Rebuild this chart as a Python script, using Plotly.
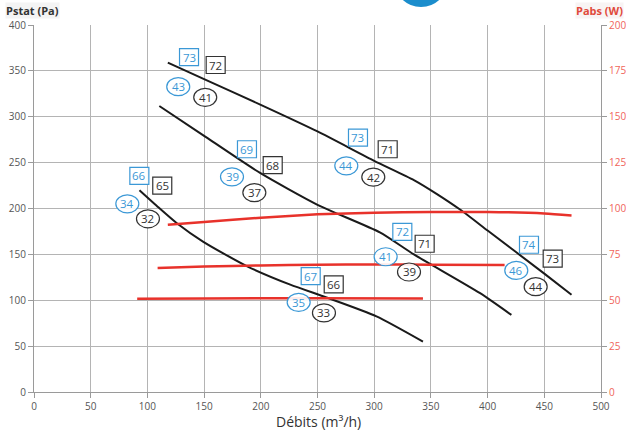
import plotly.graph_objects as go

# ---- Data ----
# Black pressure curves (Pstat, Pa) vs flow (m3/h)
p1_x = [118, 150, 200, 250, 300, 335, 355, 376, 400, 450, 474]
p1_y = [359, 341, 313, 284, 252, 231, 216, 198.6, 176, 129, 106]
p2_x = [110.5, 149, 199, 250, 305, 335, 393, 421]
p2_y = [311.7, 280, 239, 204, 174, 150, 108, 84]
p3_x = [93, 110, 126, 149, 188, 226, 258, 302, 343]
p3_y = [220, 201, 184, 164, 137, 117, 103, 82.5, 55]

# Red power curves (Pabs, W)
w1_x = [118, 150, 200, 250, 300, 350, 400, 450, 474]
w1_y = [91.1, 92.7, 95.0, 96.8, 97.7, 98.1, 98.1, 97.3, 96.2]
w2_x = [109, 150, 200, 250, 300, 350, 415]
w2_y = [67.6, 68.4, 69.0, 69.3, 69.5, 69.4, 69.2]
w3_x = [91, 150, 250, 343]
w3_y = [50.8, 51.0, 51.1, 51.0]

# Labels: blue squares, black squares, blue circles, black circles
bsq_lab = ["73", "69", "66", "73", "72", "67", "74"]
bsq_x = [136.7, 187.8, 92.9, 285.7, 324.8, 244.0, 436.5]
bsq_y = [365, 264.6, 235.6, 277.3, 174.6, 126.4, 160.5]

ksq_lab = ["72", "68", "65", "71", "71", "66", "73"]
ksq_x = [160.2, 210.5, 113.1, 311.9, 344.5, 264.3, 457.4]
ksq_y = [356.4, 247.2, 225.0, 264.6, 161.6, 117.3, 145.3]

bci_lab = ["43", "39", "34", "44", "41", "35", "46"]
bci_x = [127.2, 174.6, 82.3, 275.4, 310.1, 233.4, 425.3]
bci_y = [332.8, 234.5, 205.1, 246.5, 147.4, 97.7, 132.5]

kci_lab = ["41", "37", "32", "42", "39", "33", "44"]
kci_x = [151.0, 194.3, 100.5, 299.2, 330.7, 255.7, 442.4]
kci_y = [321.2, 217.4, 188.8, 234.2, 130.8, 86.2, 114.8]

x_ticks = list(range(0, 501, 50))
y_ticks = list(range(0, 401, 50))
y2_ticks = list(range(0, 201, 25))

BLUE = "#3b98d6"
DARK = "#333333"
RED = "#e8322b"
RED_T = "#f0645a"
GRID = "#b4b4b4"
FONT = "Open Sans"

L, R, T, B = 34, 25, 25, 44.5
PW, PH = 626 - L - R, 437 - T - B

fig = go.Figure()

for xs, ys in [(p1_x, p1_y), (p2_x, p2_y), (p3_x, p3_y)]:
    fig.add_trace(go.Scatter(x=xs, y=ys, mode="lines", line=dict(color="#1a1a1a", width=2, shape="spline", smoothing=0.6),
                             showlegend=False, hoverinfo="skip"))
for xs, ys in [(w1_x, w1_y), (w2_x, w2_y), (w3_x, w3_y)]:
    fig.add_trace(go.Scatter(x=xs, y=ys, mode="lines", yaxis="y2",
                             line=dict(color=RED, width=2.5, shape="spline", smoothing=0.6),
                             showlegend=False, hoverinfo="skip"))

shapes = []
annotations = []

def add_marks(labs, xs, ys, kind, color):
    for lab, x, y in zip(labs, xs, ys):
        if kind == "rect":
            hx, hy = 9.5, 8.5
        else:
            hx, hy = 11.5, 9
        shapes.append(dict(type=kind, xref="x", yref="y", xsizemode="pixel", ysizemode="pixel",
                           xanchor=x, yanchor=y, x0=-hx, x1=hx, y0=-hy, y1=hy,
                           line=dict(color=color, width=1.2), fillcolor="rgba(255,255,255,0.9)", layer="above"))
        annotations.append(dict(x=x, y=y, xref="x", yref="y", text=lab, showarrow=False,
                                font=dict(family=FONT, size=11.5, color=color)))

add_marks(bsq_lab, bsq_x, bsq_y, "rect", BLUE)
add_marks(ksq_lab, ksq_x, ksq_y, "rect", DARK)
add_marks(bci_lab, bci_x, bci_y, "circle", BLUE)
add_marks(kci_lab, kci_x, kci_y, "circle", DARK)

def px(xp):
    return (xp - L) / PW

def py(yp):
    return (437 - B - yp) / PH

# partial logo at top
shapes.append(dict(type="circle", xref="paper", yref="paper",
                   x0=px(394), x1=px(448), y0=py(7), y1=py(-47),
                   line=dict(width=0), fillcolor="#1b8dcc", layer="above"))

annotations.append(dict(x=px(5), y=py(10), xref="paper", yref="paper", text="<b>Pstat (Pa)</b>", showarrow=False,
                        xanchor="left", yanchor="middle", font=dict(family=FONT, size=11, color=DARK),
                        bgcolor="#f4f4f4", borderpad=0))
annotations.append(dict(x=px(624), y=py(10), xref="paper", yref="paper", text="<b>Pabs (W)</b>", showarrow=False,
                        xanchor="right", yanchor="middle", font=dict(family=FONT, size=11, color="#e04a3c"),
                        bgcolor="#f8f4f4", borderpad=0))
annotations.append(dict(x=px(318), y=py(422), xref="paper", yref="paper", text="Débits (m³/h)", showarrow=False,
                        xanchor="center", yanchor="middle", font=dict(family=FONT, size=14, color=DARK)))

axis_common = dict(showline=True, linecolor="#9a9a9a", linewidth=1.2, ticks="outside", ticklen=5,
                   tickcolor="#9a9a9a", zeroline=False, automargin=False)

fig.update_layout(
    width=626, height=437,
    margin=dict(l=L, r=R, t=T, b=B, autoexpand=False),
    paper_bgcolor="white", plot_bgcolor="white",
    font=dict(family=FONT, size=10, color="#555555"),
    xaxis=dict(range=[0, 500], tickvals=x_ticks, showgrid=True, gridcolor=GRID, gridwidth=1.2,
               tickfont=dict(size=10, color="#555555"), **axis_common),
    yaxis=dict(range=[0, 400], tickvals=y_ticks, showgrid=True, gridcolor=GRID, gridwidth=1.2,
               tickfont=dict(size=10, color="#555555"), **axis_common),
    yaxis2=dict(range=[0, 200], tickvals=y2_ticks, overlaying="y", side="right", showgrid=False,
                tickfont=dict(size=10, color=RED_T), **axis_common),
    shapes=shapes,
    annotations=annotations,
)

fig.write_html("out.html", config={"displayModeBar": False},
               post_script="document.body.style.margin='0';document.body.style.padding='0';")
